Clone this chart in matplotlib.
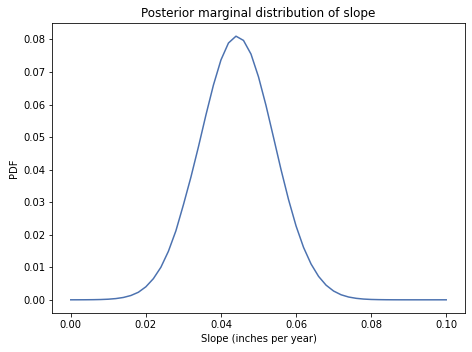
import matplotlib
matplotlib.use('Agg')
import matplotlib.pyplot as plt

# slope grid (inches per year) and posterior pdf
slopes = [0.000, 0.002, 0.004, 0.006, 0.008, 0.010, 0.012, 0.014, 0.016, 0.018,
          0.020, 0.022, 0.024, 0.026, 0.028, 0.030, 0.032, 0.034, 0.036, 0.038,
          0.040, 0.042, 0.044, 0.046, 0.048, 0.050, 0.052, 0.054, 0.056, 0.058,
          0.060, 0.062, 0.064, 0.066, 0.068, 0.070, 0.072, 0.074, 0.076, 0.078,
          0.080, 0.082, 0.084, 0.086, 0.088, 0.090, 0.092, 0.094, 0.096, 0.098,
          0.100]
pdf = [0.000003, 0.000008, 0.000019, 0.000042, 0.000091, 0.00019, 0.00038, 0.00072, 0.00132, 0.00232,
       0.0040, 0.0065, 0.0100, 0.0149, 0.0212, 0.0292, 0.0377, 0.0470, 0.0568, 0.0660,
       0.0737, 0.0789, 0.0810, 0.0797, 0.0755, 0.0685, 0.0597, 0.0499, 0.0400, 0.0308,
       0.0227, 0.0161, 0.0110, 0.0072, 0.0045, 0.0027, 0.00155, 0.00086, 0.00046, 0.00023,
       0.00011, 0.000054, 0.000024, 0.000010, 0.000004, 0.0000017, 0.0000006, 0.0000002, 0.0000001, 0.0, 0.0]

title = 'Posterior marginal distribution of slope'
xlabel = 'Slope (inches per year)'
ylabel = 'PDF'

fig = plt.figure(figsize=(472 / 72, 352 / 72), dpi=72)
ax = fig.add_axes([52 / 472, 1 - 313 / 352, 413 / 472, 290 / 352])
ax.plot(slopes, pdf, color='#4C72B0', linewidth=1.5)
ax.set_title(title, fontsize=12)
ax.set_xlabel(xlabel, fontsize=10)
ax.set_ylabel(ylabel, fontsize=10)
ax.tick_params(labelsize=10)
ax.set_yticks([0.00, 0.01, 0.02, 0.03, 0.04, 0.05, 0.06, 0.07, 0.08])
ax.set_xticks([0.00, 0.02, 0.04, 0.06, 0.08, 0.10])

fig.savefig('out.png', dpi=72, facecolor='white')
